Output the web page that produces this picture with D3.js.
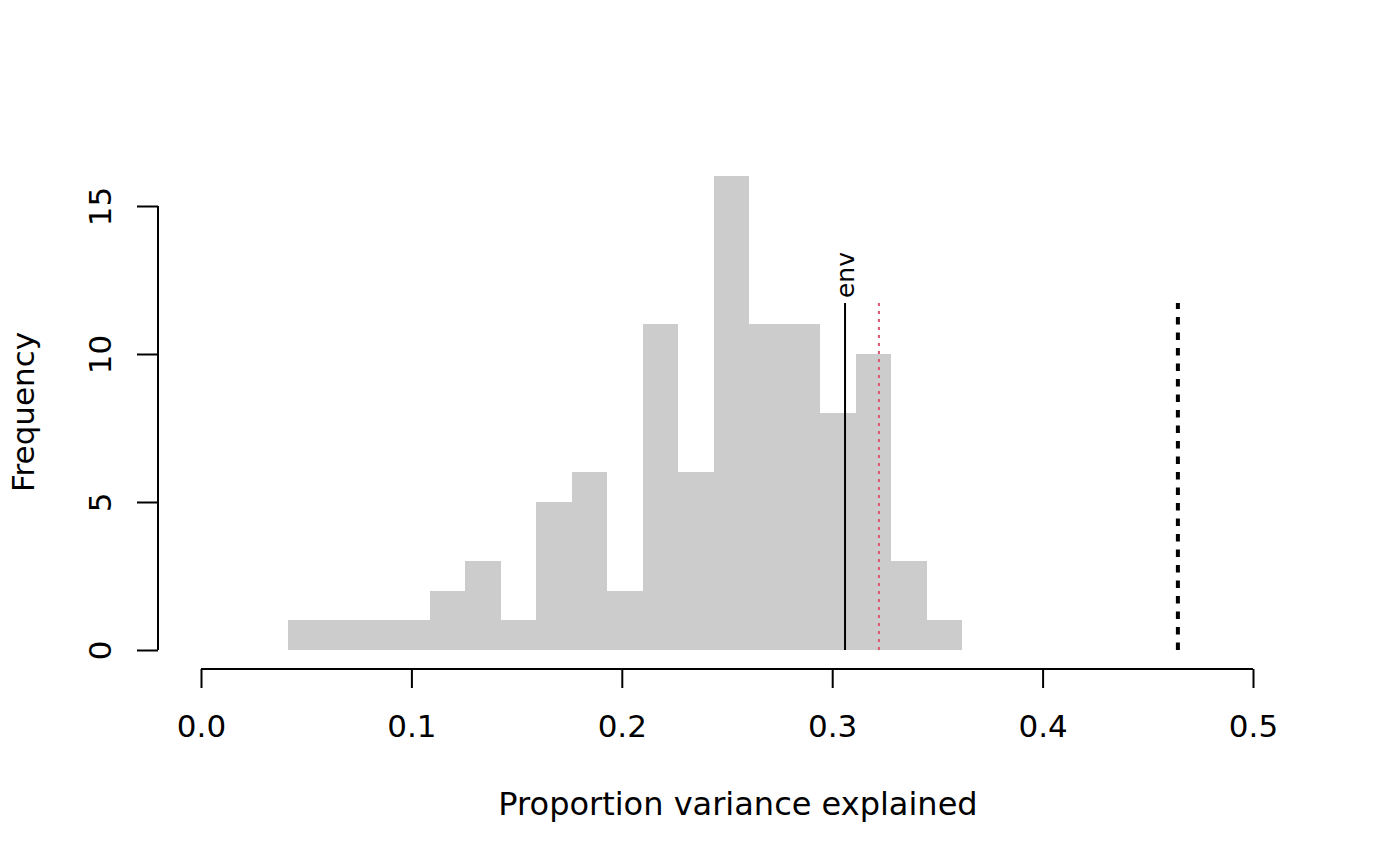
<!DOCTYPE html>
<html>
<head>
<meta charset="utf-8">
<script src="https://cdn.jsdelivr.net/npm/d3@7"></script>
<style>
  html, body { margin: 0; padding: 0; background: #fff; }
  svg text { font-family: "DejaVu Sans", sans-serif; fill: #000; }
</style>
</head>
<body>
<svg id="chart" width="1400" height="865"></svg>
<script>
// Histogram bin edges (proportion of variance explained)
const breaks = [0.0413, 0.0582, 0.0750, 0.0919, 0.1088, 0.1256, 0.1425, 0.1594, 0.1762, 0.1931,
                0.2100, 0.2268, 0.2437, 0.2606, 0.2774, 0.2943, 0.3112, 0.3280, 0.3449, 0.3618];
// Frequency per bin
const counts = [1, 1, 1, 1, 2, 3, 1, 5, 6, 2, 11, 6, 16, 11, 11, 8, 10, 3, 1];
// Reference lines
const refLabels = ["env", "", ""];
const refValues = [0.3061, 0.3222, 0.4643];
const refTop = 11.72;
const xTicks = [0.0, 0.1, 0.2, 0.3, 0.4, 0.5];
const yTicks = [0, 5, 10, 15];
const xTitle = "Proportion variance explained";
const yTitle = "Frequency";

const svg = d3.select("#chart");
const x = d3.scaleLinear().domain([0, 0.5]).range([201, 1253]);
const y = d3.scaleLinear().domain([0, 15]).range([650, 206]);

const bins = counts.map((c, i) => ({x0: breaks[i], x1: breaks[i + 1], n: c}));

svg.append("g").attr("shape-rendering", "crispEdges")
  .selectAll("rect").data(bins).join("rect")
  .attr("x", d => Math.round(x(d.x0)))
  .attr("width", d => Math.round(x(d.x1)) - Math.round(x(d.x0)))
  .attr("y", d => Math.round(y(d.n)))
  .attr("height", d => Math.round(y(0)) - Math.round(y(d.n)))
  .attr("fill", "#cccccc");

// Reference lines
const refStyles = [
  {stroke: "#000", width: 2, dash: null},
  {stroke: "#DF536B", width: 2, dash: "3,5"},
  {stroke: "#000", width: 4, dash: "7.5,8"}
];
refValues.forEach((v, i) => {
  const s = refStyles[i];
  const ln = svg.append("line")
    .attr("x1", x(v)).attr("x2", x(v))
    .attr("y1", y(0)).attr("y2", y(refTop))
    .attr("stroke", s.stroke).attr("stroke-width", s.width);
  if (s.dash) ln.attr("stroke-dasharray", s.dash);
  if (refLabels[i]) {
    svg.append("text")
      .attr("transform", `translate(${x(v) + 9},${y(refTop) - 5}) rotate(-90)`)
      .attr("text-anchor", "start")
      .style("font-size", "25px")
      .text(refLabels[i]);
  }
});

// X axis (R style)
const xAxis = d3.axisBottom(x).tickValues(xTicks).tickFormat(d3.format(".1f"))
  .tickSize(19).tickPadding(0);
const gx = svg.append("g").attr("transform", "translate(0,669)").call(xAxis);
gx.select(".domain").attr("d", `M${x(0)},0H${x(0.5)}`).attr("stroke-width", 2);
gx.selectAll(".tick line").attr("stroke-width", 2);
gx.selectAll(".tick text").attr("y", 68).attr("dy", null).style("font-size", "31px");

// Y axis (R style)
const yAxis = d3.axisLeft(y).tickValues(yTicks).tickSize(21).tickPadding(0);
const gy = svg.append("g").attr("transform", "translate(158,0)").call(yAxis);
gy.select(".domain").attr("d", `M0,${y(0)}V${y(15)}`).attr("stroke-width", 2);
gy.selectAll(".tick line").attr("stroke-width", 2);
gy.selectAll(".tick text")
  .attr("x", null).attr("dy", null)
  .attr("transform", "translate(-47,0) rotate(-90)")
  .attr("text-anchor", "middle")
  .style("font-size", "31px");

// Titles
svg.append("text")
  .attr("x", 738).attr("y", 815)
  .attr("text-anchor", "middle")
  .style("font-size", "32px")
  .text(xTitle);
svg.append("text")
  .attr("transform", "translate(34,412) rotate(-90)")
  .attr("text-anchor", "middle")
  .style("font-size", "31px")
  .text(yTitle);
</script>
</body>
</html>
